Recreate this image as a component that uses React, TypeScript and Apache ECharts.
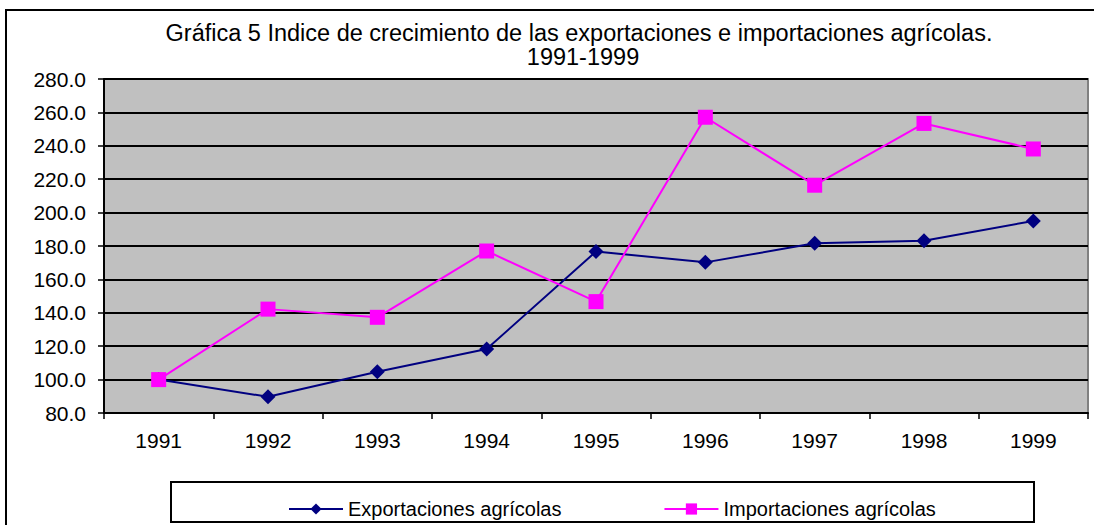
import React, { useEffect, useRef } from "react";
import * as echarts from "echarts";

const years = ["1991", "1992", "1993", "1994", "1995", "1996", "1997", "1998", "1999"];
const exportaciones = [100.0, 89.7, 104.7, 118.3, 176.7, 170.2, 181.6, 183.2, 195.0];
const importaciones = [100.0, 142.2, 137.3, 177.0, 146.7, 257.1, 216.4, 253.4, 238.1];
const titleLines = [
  "Gráfica 5 Indice de crecimiento de las exportaciones e importaciones agrícolas.",
  "1991-1999",
];
const seriesNames = ["Exportaciones agrícolas", "Importaciones agrícolas"];

const FONT = "'Liberation Sans', Arial, sans-serif";

export default function App() {
  const ref = useRef<HTMLDivElement>(null);
  useEffect(() => {
    if (!ref.current) return;
    const chart = echarts.init(ref.current, undefined, { renderer: "svg" });
    chart.setOption({
      animation: false,
      backgroundColor: "#ffffff",
      textStyle: { fontFamily: FONT },
      graphic: [
        {
          type: "rect",
          z: -10,
          shape: { x: 6, y: 10, width: 1110, height: 540 },
          style: { fill: "#ffffff", stroke: "#000000", lineWidth: 2 },
        },
        {
          type: "rect",
          z: -5,
          shape: { x: 171, y: 482, width: 863, height: 40 },
          style: { fill: "#ffffff", stroke: "#000000", lineWidth: 2 },
        },
        {
          type: "text",
          x: 579,
          y: 33,
          style: {
            text: titleLines[0],
            textAlign: "center",
            textVerticalAlign: "middle",
            font: `23.5px ${FONT}`,
            fill: "#000000",
          },
        },
        {
          type: "text",
          x: 583,
          y: 57,
          style: {
            text: titleLines[1],
            textAlign: "center",
            textVerticalAlign: "middle",
            font: `23.5px ${FONT}`,
            fill: "#000000",
          },
        },
      ],
      legend: {
        left: 283,
        top: 494,
        itemWidth: 54,
        itemHeight: 14,
        itemGap: 102,
        textStyle: { fontSize: 20, fontFamily: FONT, color: "#000" },
        data: seriesNames,
      },
      grid: {
        left: 104,
        top: 79,
        right: 6,
        bottom: 112,
        show: true,
        backgroundColor: "#c0c0c0",
        borderColor: "#808080",
        borderWidth: 2,
      },
      xAxis: {
        type: "category",
        data: years,
        boundaryGap: true,
        axisLine: { lineStyle: { color: "#000", width: 2 } },
        axisTick: { show: true, length: 6, lineStyle: { color: "#000", width: 1.5 } },
        axisLabel: { fontSize: 21, color: "#000", margin: 17, fontFamily: FONT },
      },
      yAxis: {
        type: "value",
        min: 80,
        max: 280,
        interval: 20,
        axisLine: { show: true, lineStyle: { color: "#000", width: 2 } },
        axisTick: { show: true, length: 6, lineStyle: { color: "#000", width: 1.5 } },
        axisLabel: {
          fontSize: 21,
          color: "#000",
          margin: 18,
          fontFamily: FONT,
          formatter: (v: number) => v.toFixed(1),
        },
        splitLine: { show: true, lineStyle: { color: "#000", width: 2 } },
      },
      series: [
        {
          name: seriesNames[0],
          type: "line",
          data: exportaciones,
          symbol: "diamond",
          symbolSize: 15,
          color: "#000080",
          lineStyle: { color: "#000080", width: 2 },
          itemStyle: { color: "#000080" },
        },
        {
          name: seriesNames[1],
          type: "line",
          data: importaciones,
          symbol: "rect",
          symbolSize: 15,
          color: "#ff00ff",
          lineStyle: { color: "#ff00ff", width: 2 },
          itemStyle: { color: "#ff00ff" },
        },
      ],
    });
    return () => chart.dispose();
  }, []);
  return (
    <div
      ref={ref}
      style={{ position: "fixed", left: 0, top: 0, width: 1094, height: 525 }}
    />
  );
}
